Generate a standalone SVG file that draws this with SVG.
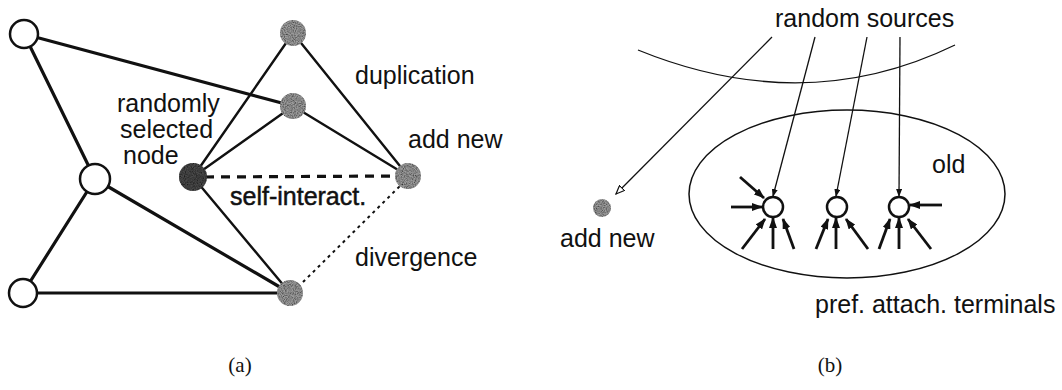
<svg xmlns="http://www.w3.org/2000/svg" width="1062" height="390" viewBox="0 0 1062 390">
<style>
text{font-family:"Liberation Sans",Arial,Helvetica,sans-serif;font-size:25px;fill:#111}
.cap{font-family:"Liberation Serif","Times New Roman",serif;font-size:21px}
.open{fill:#fff;stroke:#111;stroke-width:2.5}
.gray{fill:#9c9c9c}
.dark{fill:#4a4a4a}
.e3{stroke:#111;stroke-width:3.2;fill:none;stroke-linecap:round}
.e2{stroke:#111;stroke-width:2.4;fill:none;stroke-linecap:round}
.thin{stroke:#111;stroke-width:1.3;fill:none}
.thick{stroke:#111;stroke-width:2.8;fill:none}
</style>
<defs>
<filter id="grain" x="-20%" y="-20%" width="140%" height="140%">
<feTurbulence type="fractalNoise" baseFrequency="0.9" numOctaves="2" seed="3" result="n"/>
<feColorMatrix in="n" type="matrix" values="0 0 0 0 0  0 0 0 0 0  0 0 0 0 0  0 0 0 1.6 -0.5" result="a"/>
<feComposite in="a" in2="SourceGraphic" operator="in" result="dots"/>
<feMerge><feMergeNode in="SourceGraphic"/><feMergeNode in="dots"/></feMerge>
</filter>
<marker id="ah" markerUnits="userSpaceOnUse" markerWidth="11" markerHeight="8" refX="10" refY="4" orient="auto">
<path d="M0,0 L11,4 L0,8 z" fill="#111"/>
</marker>
<marker id="ahs" markerUnits="userSpaceOnUse" markerWidth="8" markerHeight="6" refX="7" refY="3" orient="auto">
<path d="M0,0 L8,3 L0,6 z" fill="#111"/>
</marker>
<marker id="aho" markerUnits="userSpaceOnUse" markerWidth="10" markerHeight="8" refX="9" refY="4" orient="auto">
<path d="M0.5,0.5 L9,4 L0.5,7.5 z" fill="#fff" stroke="#111" stroke-width="1.2"/>
</marker>
</defs>

<g id="connectors">
<line class="e3" x1="24" y1="34" x2="293" y2="106"/>
<line class="e3" x1="24" y1="34" x2="95" y2="179"/>
<line class="e3" x1="95" y1="179" x2="23" y2="293"/>
<line class="e3" x1="95" y1="179" x2="290" y2="293"/>
<line class="e3" x1="23" y1="293" x2="290" y2="293"/>
<line class="e2" x1="193" y1="177" x2="290" y2="293"/>
<line class="e2" x1="193" y1="177" x2="293" y2="33"/>
<line class="e2" x1="193" y1="177" x2="293" y2="106"/>
<line class="e2" x1="293" y1="33" x2="408" y2="176"/>
<line class="e2" x1="293" y1="106" x2="408" y2="176"/>
<line x1="205" y1="177" x2="400" y2="176" stroke="#111" stroke-width="3.2" stroke-dasharray="9 7"/>
<line x1="298" y1="287" x2="402" y2="184" stroke="#111" stroke-width="2" stroke-dasharray="3 4"/>
<path class="thin" d="M638,50 Q805,118 955,45"/>
<line class="thin" x1="772" y1="37" x2="616" y2="194" marker-end="url(#aho)"/>
<line class="thin" x1="815" y1="37" x2="773" y2="196" marker-end="url(#ahs)"/>
<line class="thin" x1="867" y1="37" x2="836" y2="196" marker-end="url(#ahs)"/>
<line class="thin" x1="900" y1="37" x2="899" y2="196" marker-end="url(#ahs)"/>
<g marker-end="url(#ah)">
<line class="thick" x1="740" y1="177" x2="764" y2="198"/>
<line class="thick" x1="731" y1="207" x2="762" y2="207"/>
<line class="thick" x1="742" y1="249" x2="765" y2="219"/>
<line class="thick" x1="773" y1="249" x2="773" y2="218"/>
<line class="thick" x1="794" y1="249" x2="783" y2="219"/>
<line class="thick" x1="816" y1="249" x2="828" y2="219"/>
<line class="thick" x1="836" y1="249" x2="836" y2="218"/>
<line class="thick" x1="868" y1="249" x2="846" y2="219"/>
<line class="thick" x1="942" y1="205" x2="910" y2="205"/>
<line class="thick" x1="879" y1="249" x2="890" y2="219"/>
<line class="thick" x1="899" y1="249" x2="899" y2="218"/>
<line class="thick" x1="931" y1="249" x2="908" y2="219"/>
</g>
</g>

<g id="node-tl"><circle class="open" cx="24" cy="34" r="14"/></g>
<g id="node-mid"><circle class="open" cx="95" cy="179" r="15"/></g>
<g id="node-bl"><circle class="open" cx="23" cy="293" r="14"/></g>
<g id="node-dup1"><circle class="gray" filter="url(#grain)" cx="293" cy="33" r="13"/></g>
<g id="node-dup2"><circle class="gray" filter="url(#grain)" cx="293" cy="106" r="13"/></g>
<g id="node-selected"><circle class="dark" filter="url(#grain)" cx="193" cy="177" r="14"/></g>
<g id="node-addnew-a"><circle class="gray" filter="url(#grain)" cx="408" cy="176" r="13"/></g>
<g id="node-div"><circle class="gray" filter="url(#grain)" cx="290" cy="293" r="13"/></g>

<g id="node-addnew-b"><circle class="gray" filter="url(#grain)" cx="602" cy="208" r="9"/></g>
<g id="region-old"><ellipse cx="847" cy="194" rx="158" ry="84" fill="none" stroke="#111" stroke-width="1.5"/></g>
<g id="node-t1"><circle class="open" stroke-width="1.6" cx="773" cy="207" r="10"/></g>
<g id="node-t2"><circle class="open" stroke-width="1.6" cx="837" cy="207" r="10"/></g>
<g id="node-t3"><circle class="open" stroke-width="1.6" cx="899" cy="207" r="10"/></g>

<g id="labels">
<text x="117" y="112">randomly</text>
<text x="120" y="138">selected</text>
<text x="123" y="164">node</text>
<text x="355" y="84">duplication</text>
<text x="408" y="148">add new</text>
<text x="230" y="205" stroke="#111" stroke-width="0.5">self-interact.</text>
<text x="355" y="266">divergence</text>
<text class="cap" x="240" y="372" text-anchor="middle">(a)</text>
<text x="775" y="27">random sources</text>
<text x="932" y="173">old</text>
<text x="560" y="247">add new</text>
<text x="815" y="313">pref. attach. terminals</text>
<text class="cap" x="830" y="372" text-anchor="middle">(b)</text>
</g>
</svg>
